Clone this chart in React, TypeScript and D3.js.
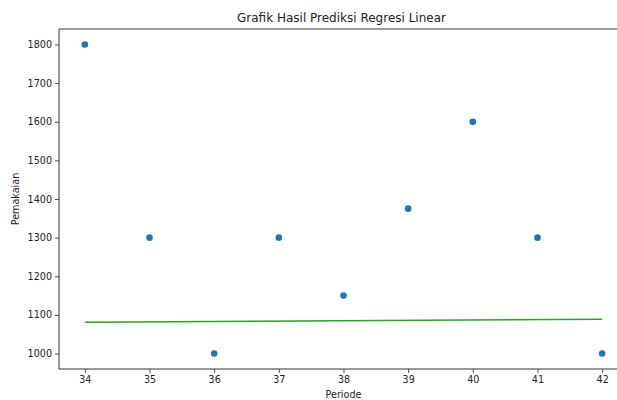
import { useRef, useEffect } from 'react';
import * as d3 from 'd3';

const periods = [34, 35, 36, 37, 38, 39, 40, 41, 42];
const usage = [1800, 1300, 1000, 1300, 1150, 1375, 1600, 1300, 1000];
const predPeriods = [34, 42];
const predUsage = [1081, 1089];
const xTicks = [34, 35, 36, 37, 38, 39, 40, 41, 42];
const yTicks = [1000, 1100, 1200, 1300, 1400, 1500, 1600, 1700, 1800];

const W = 617;
const H = 400;
const FONT = 'DejaVu Sans, sans-serif';

export default function App() {
  const svgRef = useRef<SVGSVGElement>(null);

  useEffect(() => {
    const svg = d3.select(svgRef.current);
    svg.selectAll('*').remove();

    // plot area (right edge is cut off by the image, like the original)
    const left = 59;
    const right = 628;
    const top = 29;
    const bottom = 369;

    const x = d3.scaleLinear().domain([33.6, 42.4]).range([left, right]);
    const y = d3.scaleLinear().domain([960, 1840]).range([bottom, top]);

    svg.append('rect').attr('width', W).attr('height', H).attr('fill', '#fff');

    // regression line
    const line = d3
      .line<number>()
      .x((d) => x(d))
      .y((_, i) => y(predUsage[i]));
    svg
      .append('path')
      .attr('d', line(predPeriods))
      .attr('fill', 'none')
      .attr('stroke', '#2ca02c')
      .attr('stroke-width', 1.5);

    // points
    svg
      .selectAll('circle.pt')
      .data(periods)
      .join('circle')
      .attr('class', 'pt')
      .attr('cx', (d) => x(d))
      .attr('cy', (_, i) => y(usage[i]))
      .attr('r', 3.3)
      .attr('fill', '#1f77b4');

    // axes
    const xAxis = svg
      .append('g')
      .attr('transform', `translate(0,${bottom})`)
      .call(d3.axisBottom(x).tickValues(xTicks).tickSize(4).tickPadding(3).tickFormat(d3.format('d')));
    const yAxis = svg
      .append('g')
      .attr('transform', `translate(${left},0)`)
      .call(d3.axisLeft(y).tickValues(yTicks).tickSize(4).tickPadding(3).tickFormat(d3.format('d')));

    [xAxis, yAxis].forEach((a) => {
      a.select('.domain').remove();
      a.selectAll('.tick line').attr('stroke', '#222').attr('stroke-width', 0.8);
      a.selectAll('.tick text')
        .attr('fill', '#222')
        .attr('font-family', FONT)
        .attr('font-size', 9.6);
    });

    // spines
    svg
      .append('path')
      .attr('d', `M${left},${bottom}V${top}H${right}M${left},${bottom}H${right}`)
      .attr('fill', 'none')
      .attr('stroke', '#333')
      .attr('stroke-width', 1);

    // labels
    svg
      .append('text')
      .attr('x', (left + right) / 2 - 2)
      .attr('y', 22)
      .attr('text-anchor', 'middle')
      .attr('font-family', FONT)
      .attr('font-size', 12)
      .attr('fill', '#222')
      .text('Grafik Hasil Prediksi Regresi Linear');

    svg
      .append('text')
      .attr('x', (left + right) / 2)
      .attr('y', 398)
      .attr('text-anchor', 'middle')
      .attr('font-family', FONT)
      .attr('font-size', 9.6)
      .attr('fill', '#222')
      .text('Periode');

    svg
      .append('text')
      .attr('transform', `translate(19,${(top + bottom) / 2}) rotate(-90)`)
      .attr('text-anchor', 'middle')
      .attr('font-family', FONT)
      .attr('font-size', 9.6)
      .attr('fill', '#222')
      .text('Pemakaian');
  }, []);

  return (
    <div style={{ position: 'fixed', left: 0, top: 0, width: W, height: H, overflow: 'hidden' }}>
      <svg ref={svgRef} width={W} height={H} style={{ display: 'block' }} />
    </div>
  );
}
